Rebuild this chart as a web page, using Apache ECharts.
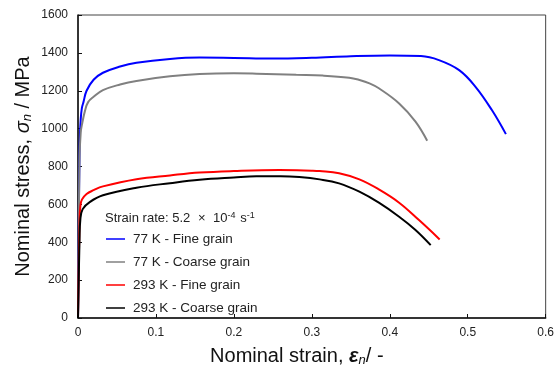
<!DOCTYPE html>
<html>
<head>
<meta charset="utf-8">
<script src="https://cdn.jsdelivr.net/npm/echarts@6/dist/echarts.min.js"></script>
<style>
html,body{margin:0;padding:0;background:#fff;}
#chart{width:557px;height:374px;}
</style>
</head>
<body>
<div id="chart"></div>
<script>
// ---- Data ----
const seriesNames = ['77 K - Fine grain', '77 K - Coarse grain', '293 K - Fine grain', '293 K - Coarse grain'];
const seriesColors = ['#0000ff', '#808080', '#ff0000', '#000000'];

const strain77Fine = [0, 0.002, 0.0035, 0.005, 0.007, 0.011, 0.02, 0.032, 0.054, 0.075, 0.118, 0.156, 0.2, 0.25, 0.3, 0.35, 0.4, 0.44, 0.463, 0.489, 0.51, 0.531, 0.549];
const stress77Fine = [0, 900, 1050, 1110, 1140, 1200, 1258, 1295, 1328, 1348, 1368, 1375, 1373, 1370, 1374, 1382, 1386, 1383, 1362, 1309, 1221, 1098, 971];

const strain77Coarse = [0, 0.002, 0.0035, 0.005, 0.009, 0.013, 0.02, 0.032, 0.054, 0.075, 0.118, 0.156, 0.2, 0.229, 0.28, 0.314, 0.348, 0.361, 0.374, 0.386, 0.412, 0.433, 0.448];
const stress77Coarse = [0, 850, 980, 1020, 1095, 1140, 1168, 1203, 1233, 1252, 1276, 1288, 1292, 1290, 1284, 1280, 1269, 1257, 1239, 1213, 1133, 1037, 936];

const strain293Fine = [0, 0.002, 0.003, 0.005, 0.011, 0.02, 0.032, 0.075, 0.118, 0.156, 0.2, 0.258, 0.3, 0.31, 0.335, 0.361, 0.386, 0.412, 0.4375, 0.464];
const stress293Fine = [0, 520, 590, 625, 655, 675, 695, 733, 753, 768, 776, 781, 778, 776, 764, 732, 679, 609, 517, 415];

const strain293Coarse = [0, 0.002, 0.003, 0.006, 0.015, 0.032, 0.075, 0.118, 0.156, 0.2, 0.229, 0.26, 0.284, 0.31, 0.335, 0.361, 0.386, 0.412, 0.433, 0.4525];
const stress293Coarse = [0, 420, 520, 575, 612, 648, 688, 712, 730, 742, 748, 748, 744, 732, 711, 667, 609, 535, 465, 385];

const xTicks = [0, 0.1, 0.2, 0.3, 0.4, 0.5, 0.6];
const yTicks = [0, 200, 400, 600, 800, 1000, 1200, 1400, 1600];

// ---- Build ----
const strains = [strain77Fine, strain77Coarse, strain293Fine, strain293Coarse];
const stresses = [stress77Fine, stress77Coarse, stress293Fine, stress293Coarse];
const FONT = '"Liberation Sans", Arial, sans-serif';

const series = seriesNames.map((name, i) => ({
  name: name,
  type: 'line',
  data: strains[i].map((x, k) => [x, stresses[i][k]]),
  showSymbol: false,
  symbol: 'none',
  smooth: 0.4,
  lineStyle: { color: seriesColors[i], width: 2 },
  itemStyle: { color: seriesColors[i] },
  animation: false
}));

const chart = echarts.init(document.getElementById('chart'), null, { renderer: 'canvas' });
chart.setOption({
  backgroundColor: '#fff',
  animation: false,
  grid: { left: 78, right: 10, top: 15, bottom: 56, show: true, borderColor: '#444', borderWidth: 1, backgroundColor: 'transparent' },
  title: {
    left: 105, top: 211, padding: 0,
    text: 'Strain rate: 5.2 {x|×} 10{sup|-4} s{sup|-1}',
    textStyle: {
      fontFamily: FONT, fontSize: 13, fontWeight: 'normal', color: '#222',
      rich: {
        x: { fontFamily: FONT, fontSize: 13, color: '#222', padding: [0, 4, 0, 4] },
        sup: { fontFamily: FONT, fontSize: 9, color: '#222', verticalAlign: 'top', padding: [0, 1, 6, 0] }
      }
    }
  },
  legend: {
    orient: 'vertical', left: 106, top: 231, padding: 0,
    itemWidth: 19, itemHeight: 1.5, itemGap: 7, icon: 'rect',
    textStyle: { fontFamily: FONT, fontSize: 13.5, color: '#222', lineHeight: 16, padding: [0, 0, 0, 3] },
    data: seriesNames
  },
  xAxis: {
    type: 'value', min: xTicks[0], max: xTicks[xTicks.length - 1], interval: 0.1,
    axisLine: { show: true, lineStyle: { color: '#111', width: 1.5 } },
    axisTick: { show: true, inside: true, length: 4, lineStyle: { color: '#111' } },
    splitLine: { show: false },
    axisLabel: { fontFamily: FONT, fontSize: 12, color: '#222', margin: 9,
      formatter: v => (v === 0 ? '0' : v.toFixed(1)) },
    name: 'Nominal strain, {e|ε}{sub|n}/ -',
    nameLocation: 'middle', nameGap: 27, nameMoveOverlap: false,
    nameTextStyle: {
      fontFamily: FONT, fontSize: 20, color: '#111', padding: [0, 30, 0, 0],
      rich: {
        e: { fontFamily: FONT, fontSize: 20, fontStyle: 'italic', fontWeight: 'bold', color: '#111' },
        sub: { fontFamily: FONT, fontSize: 13, fontStyle: 'italic', color: '#111', verticalAlign: 'bottom', padding: [9, 0, 0, 0] }
      }
    }
  },
  yAxis: {
    type: 'value', min: yTicks[0], max: yTicks[yTicks.length - 1], interval: 200,
    axisLine: { show: true, lineStyle: { color: '#111', width: 1.5 } },
    axisTick: { show: true, inside: true, length: 4, lineStyle: { color: '#111' } },
    splitLine: { show: false },
    axisLabel: { fontFamily: FONT, fontSize: 12, color: '#222', margin: 10, formatter: v => String(v) },
    name: 'Nominal stress, {s|σ}{sub|n} / MPa',
    nameLocation: 'middle', nameGap: 44, nameMoveOverlap: false,
    nameTextStyle: {
      fontFamily: FONT, fontSize: 20, color: '#111',
      rich: {
        s: { fontFamily: FONT, fontSize: 20, fontStyle: 'italic', color: '#111' },
        sub: { fontFamily: FONT, fontSize: 13, fontStyle: 'italic', color: '#111', verticalAlign: 'bottom', padding: [9, 0, 0, 0] }
      }
    }
  },
  series: series
});
</script>
</body>
</html>
